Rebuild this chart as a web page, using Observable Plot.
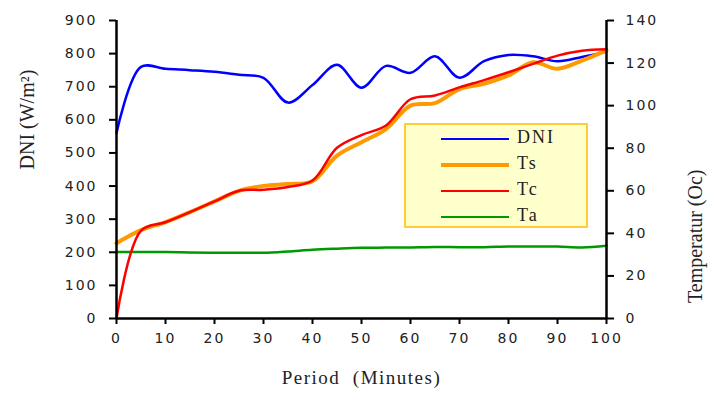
<!DOCTYPE html>
<html>
<head>
<meta charset="utf-8">
<script src="https://cdn.jsdelivr.net/npm/d3@7"></script>
<script src="https://cdn.jsdelivr.net/npm/@observablehq/plot@0.6"></script>
<style>
  html, body { margin: 0; padding: 0; background: white; }
  #wrap { position: relative; width: 727px; height: 397px; }
  #legend { position: absolute; left: 404px; top: 123px; width: 180px; height: 101px;
            background: #FFFFCC; border: 2px solid #FFCC33; }
  .item { position: absolute; left: 0; height: 20px; }
  .item .ln { position: absolute; left: 35px; width: 68px; top: 9px; }
  .item .lb { position: absolute; left: 111px; top: -2px; font-family: "Liberation Serif", serif;
              font-size: 18px; letter-spacing: 2px; color: #222; white-space: nowrap; }
</style>
</head>
<body>
<div id="wrap"></div>
<script>
const minutes = [0,5,10,15,20,25,30,35,40,45,50,55,60,65,70,75,80,85,90,95,100];
const dni = [560,760,754,750,745,736,727,652,705,766,697,763,742,792,727,777,796,792,777,790,806];
const ts  = [35.4,41.5,45.3,50,55,60,62.3,63.2,64.5,76.5,82.8,89,100,101.2,107.8,110.3,114.2,120.4,117.3,121.2,126];
const tc  = [0,41.3,45.2,50,55,60,60.5,61.8,64.8,80.2,86.2,90.7,103,104.8,108.6,112,115.7,119.6,123.5,125.8,126.5];
const ta  = [31.2,31.2,31.2,31,30.9,30.9,30.9,31.5,32.3,32.8,33.2,33.3,33.4,33.6,33.5,33.5,33.8,33.8,33.8,33.4,34.2];
const xTicks = [0,10,20,30,40,50,60,70,80,90,100];
const leftTicks = [0,100,200,300,400,500,600,700,800,900];
const rightTicks = [0,20,40,60,80,100,120,140];
const seriesNames = ["DNI","Ts","Tc","Ta"];
const seriesColors = ["#0000FF","#FF9900","#FF0000","#009900"];
const seriesWidths = [2.5,4,2.5,2.5];

const k = 900 / 140; // temperature -> DNI-axis units
const rows = minutes.map((m, i) => ({m, dni: dni[i], ts: ts[i] * k, tc: tc[i] * k, ta: ta[i] * k}));

const serif = "'Liberation Serif', 'Times New Roman', serif";
const chart = Plot.plot({
  width: 727, height: 397,
  marginLeft: 116, marginRight: 121, marginTop: 20, marginBottom: 79,
  x: {domain: [0, 100]},
  y: {domain: [0, 900]},
  style: {fontFamily: "'DejaVu Sans', sans-serif", fontSize: "14px", color: "#222", background: "white", overflow: "visible"},
  marks: [
    Plot.line(rows, {x: "m", y: "dni", stroke: seriesColors[0], strokeWidth: seriesWidths[0], curve: "catmull-rom"}),
    Plot.line(rows, {x: "m", y: "ta", stroke: seriesColors[3], strokeWidth: seriesWidths[3], curve: "catmull-rom"}),
    Plot.line(rows, {x: "m", y: "ts", stroke: seriesColors[1], strokeWidth: seriesWidths[1], curve: "catmull-rom"}),
    Plot.line(rows, {x: "m", y: "tc", stroke: seriesColors[2], strokeWidth: seriesWidths[2], curve: "catmull-rom"}),
    Plot.ruleX([0, 100], {stroke: "black", strokeWidth: 2.5}),
    Plot.ruleY([0], {stroke: "black", strokeWidth: 2.5}),
    Plot.axisX({ticks: xTicks, tickSize: 6, tickPadding: 9, strokeWidth: 2, stroke: "black", label: null, tickFormat: d => d}),
    Plot.axisY({ticks: leftTicks, anchor: "left", tickSize: 7, tickPadding: 12, strokeWidth: 2, stroke: "black", label: null, tickFormat: d => d}),
    Plot.axisY({ticks: rightTicks.map(t => t * k), anchor: "right", tickSize: 7, tickPadding: 12, strokeWidth: 2, stroke: "black", label: null,
                tickFormat: d => Math.round(d / k)}),
    Plot.text(["DNI (W/m²)"], {frameAnchor: "left", dx: -89, rotate: -90, fontSize: 20, fontFamily: serif, fill: "#222"}),
    Plot.text(["Temperatur (Oc)"], {frameAnchor: "right", dx: 89, rotate: -90, fontSize: 20, fontFamily: serif, fill: "#222"}),
    Plot.text(["Period  (Minutes)"], {frameAnchor: "bottom", dy: 65, fontSize: 19, fontFamily: serif, fill: "#222"})
  ]
});
d3.select(chart).selectAll("[aria-label$='tick label'] text").style("letter-spacing", "2px");
d3.select(chart).selectAll("text").filter(function(){ return this.textContent === "Period  (Minutes)"; }).style("letter-spacing", "1.5px").style("white-space", "pre");

const wrap = document.getElementById("wrap");
wrap.appendChild(chart);
const legend = document.createElement("div");
legend.id = "legend";
seriesNames.forEach((name, i) => {
  const it = document.createElement("div");
  it.className = "item";
  it.style.top = (4 + i * 26) + "px";
  const ln = document.createElement("div");
  ln.className = "ln";
  ln.style.borderTop = seriesWidths[i] + "px solid " + seriesColors[i];
  ln.style.top = (10 - seriesWidths[i] / 2) + "px";
  const lb = document.createElement("div");
  lb.className = "lb";
  lb.textContent = name;
  it.appendChild(ln); it.appendChild(lb);
  legend.appendChild(it);
});
wrap.appendChild(legend);
</script>
</body>
</html>
